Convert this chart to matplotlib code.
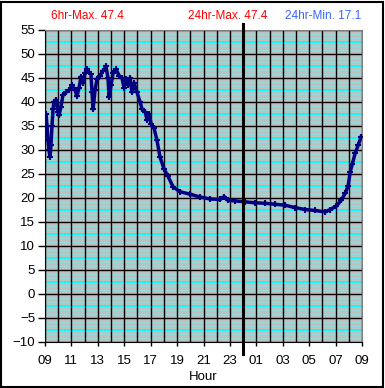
import numpy as np
import matplotlib
matplotlib.use("Agg")
import matplotlib.pyplot as plt
from matplotlib.patches import Rectangle

# hours after 09:00 and temperature
hours = [0.0, 0.08, 0.15, 0.23, 0.30, 0.38, 0.45, 0.53, 0.61, 0.68, 0.83, 0.98,
         1.06, 1.21, 1.36, 1.59, 1.82, 2.05, 2.27, 2.42, 2.58, 2.73, 2.88, 3.03,
         3.18, 3.33, 3.48, 3.56, 3.64, 3.79, 3.94, 4.17, 4.39, 4.62, 4.77, 4.85,
         5.0, 5.15, 5.38, 5.61, 5.83, 5.98, 6.14, 6.29, 6.44, 6.59, 6.74, 6.97,
         7.2, 7.35, 7.58, 7.73, 7.88, 8.03, 8.26, 8.48, 8.71, 9.02, 9.32, 9.7,
         10.23, 10.98, 11.74, 12.5, 13.26, 13.56, 13.86, 14.39, 15.15, 15.91,
         16.67, 17.42, 18.18, 18.94, 19.7, 20.45, 21.21, 21.59, 22.05, 22.42,
         22.73, 22.95, 23.11, 23.26, 23.48, 23.71, 23.94]
temps = [33.0, 37.5, 35.0, 32.0, 30.0, 28.6, 31.0, 35.0, 38.5, 40.0, 40.5, 38.0,
         37.2, 39.0, 41.5, 42.0, 42.5, 43.5, 42.5, 41.2, 43.0, 45.3, 44.0, 46.0,
         46.9, 46.2, 45.8, 42.0, 38.5, 42.5, 44.8, 45.5, 46.5, 47.4, 45.0, 41.0,
         43.5, 46.0, 46.8, 45.5, 45.0, 43.0, 44.8, 43.5, 45.0, 42.0, 44.0, 42.0,
         40.0, 38.5, 38.0, 36.2, 37.5, 35.5, 34.5, 32.0, 28.5, 26.0, 24.5, 22.3,
         21.3, 20.8, 20.2, 19.8, 19.7, 20.3, 19.5, 19.4, 19.2, 19.0,
         18.9, 18.7, 18.5, 18.0, 17.6, 17.4, 17.1, 17.6, 18.3, 19.5,
         21.0, 22.5, 25.5, 27.0, 29.3, 31.0, 32.8]

xlabels = ["09", "11", "13", "15", "17", "19", "21", "23", "01", "03", "05", "07", "09"]
stats = ["6hr-Max. 47.4", "24hr-Max. 47.4", "24hr-Min. 17.1"]

plt.rcParams['font.family'] = ['Liberation Sans', 'DejaVu Sans']

fig = plt.figure(figsize=(3.85, 3.88), dpi=100)
ax = fig.add_axes([45/385, 1-342/388, 317/385, 312/388])
ax.set_facecolor("#c0c0c0")

# horizontal minor lines, six per 5 degree band
for y in np.arange(-10, 55, 5):
    for k in range(1, 6):
        yy = y + k * 5/6
        if k == 3:
            ax.axhline(yy, color="#00ffff", lw=1.3, zorder=1)
        else:
            ax.axhline(yy, color="#90e0e0", lw=0.6, zorder=1)
for y in range(-10, 56, 5):
    ax.axhline(y, color="black", lw=1.0, zorder=2)
for h in range(0, 25):
    ax.axvline(h, color="black", lw=1.0, zorder=2)

ax.plot(hours, temps, color="#000080", lw=2.5, marker="+", ms=5, mew=1.5, zorder=4)

# midnight line
ax.plot([15, 15], [-12.4, 56.3], color="black", lw=2.2, clip_on=False, zorder=5)

ax.set_xlim(0, 24)
ax.set_ylim(-10, 55)
ax.set_yticks(range(-10, 56, 5))
ax.set_xticks(range(0, 25, 2))
ax.set_xticklabels(xlabels)
ax.tick_params(axis="y", length=5, width=1, labelsize=9.5, pad=2)
ax.tick_params(axis="x", length=3, width=1, labelsize=9.5, pad=6)
for s in ["left", "bottom"]:
    ax.spines[s].set_color("black")
for s in ["right", "top"]:
    ax.spines[s].set_color("#808080")
ax.set_xlabel("Hour", fontsize=9.5, labelpad=3)

fig.text(87/385, 1-16/388, stats[0], color="#ff0000", fontsize=8.5, ha="center", va="center")
fig.text(228/385, 1-16/388, stats[1], color="#ff0000", fontsize=8.5, ha="center", va="center")
fig.text(323/385, 1-16/388, stats[2], color="#3366ff", fontsize=8.5, ha="center", va="center")

fig.patches.append(Rectangle((1/385, 1/388), 382/385, 385/388, transform=fig.transFigure,
                             fill=False, edgecolor="black", lw=1.5))

fig.savefig("out.png", dpi=100)
